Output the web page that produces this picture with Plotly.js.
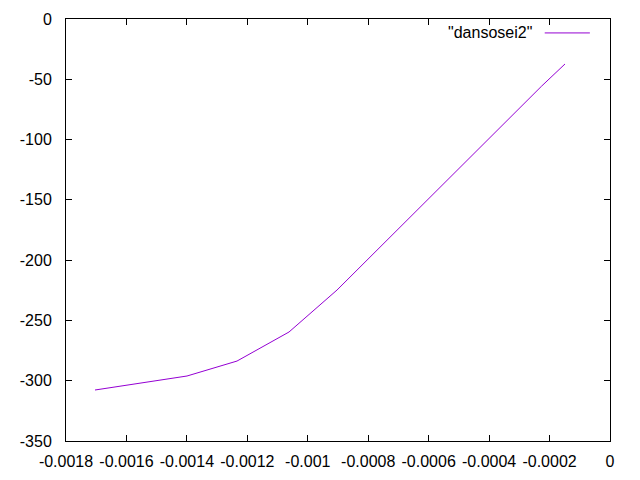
<!DOCTYPE html>
<html>
<head>
<meta charset="utf-8">
<script src="https://cdn.plot.ly/plotly-3.0.1.min.js"></script>
<style>html,body{margin:0;padding:0;background:#fff;}#chart{width:640px;height:480px;}</style>
</head>
<body>
<div id="chart"></div>
<script>
const seriesName = '"dansosei2"';
const strain = [-0.001704, -0.0013996, -0.0012342, -0.0010621, -0.0009033, -0.000226, -0.0001489];
const stress = [-307.7, -296.1, -283.7, -259.6, -224.8, -55.6, -37.3];
const xTickVals = [-0.0018, -0.0016, -0.0014, -0.0012, -0.001, -0.0008, -0.0006, -0.0004, -0.0002, 0];
const xTickText = ['-0.0018', '-0.0016', '-0.0014', '-0.0012', '-0.001', '-0.0008', '-0.0006', '-0.0004', '-0.0002', '0'];
const yTickVals = [-350, -300, -250, -200, -150, -100, -50, 0];
const yTickText = ['-350', '-300', '-250', '-200', '-150', '-100', '-50', '0'];

const lineColor = '#9400d3';
const fontFam = '"Liberation Sans", Arial, sans-serif';

const data = [{
  x: strain, y: stress, type: 'scatter', mode: 'lines', name: seriesName,
  line: {color: lineColor, width: 1}, showlegend: false
}];

const axisCommon = {
  showgrid: false, zeroline: false, showline: true, linecolor: '#000', linewidth: 1,
  mirror: 'ticks', ticks: 'inside', ticklen: 6, tickcolor: '#000', tickwidth: 1,
  tickfont: {family: fontFam, size: 16, color: '#000'}
};

const layout = {
  width: 640, height: 480,
  margin: {l: 66, r: 30, t: 19, b: 39},
  paper_bgcolor: '#fff', plot_bgcolor: '#fff',
  xaxis: Object.assign({}, axisCommon, {range: [-0.0018, 0], tickmode: 'array', tickvals: xTickVals, ticktext: xTickText, ticklabelstandoff: 6}),
  yaxis: Object.assign({}, axisCommon, {range: [-350, 0], tickmode: 'array', tickvals: yTickVals, ticktext: yTickText, ticklabelstandoff: 10}),
  annotations: [{
    xref: 'paper', yref: 'paper', x: 0.86, y: 0.967, xanchor: 'right', yanchor: 'middle',
    text: seriesName, showarrow: false, font: {family: fontFam, size: 16, color: '#000'}
  }],
  shapes: [{
    type: 'line', xref: 'paper', yref: 'paper', x0: 0.880, x1: 0.963, y0: 0.967, y1: 0.967,
    line: {color: lineColor, width: 1}
  }]
};

Plotly.newPlot('chart', data, layout, {staticPlot: true, displayModeBar: false});
</script>
</body>
</html>
